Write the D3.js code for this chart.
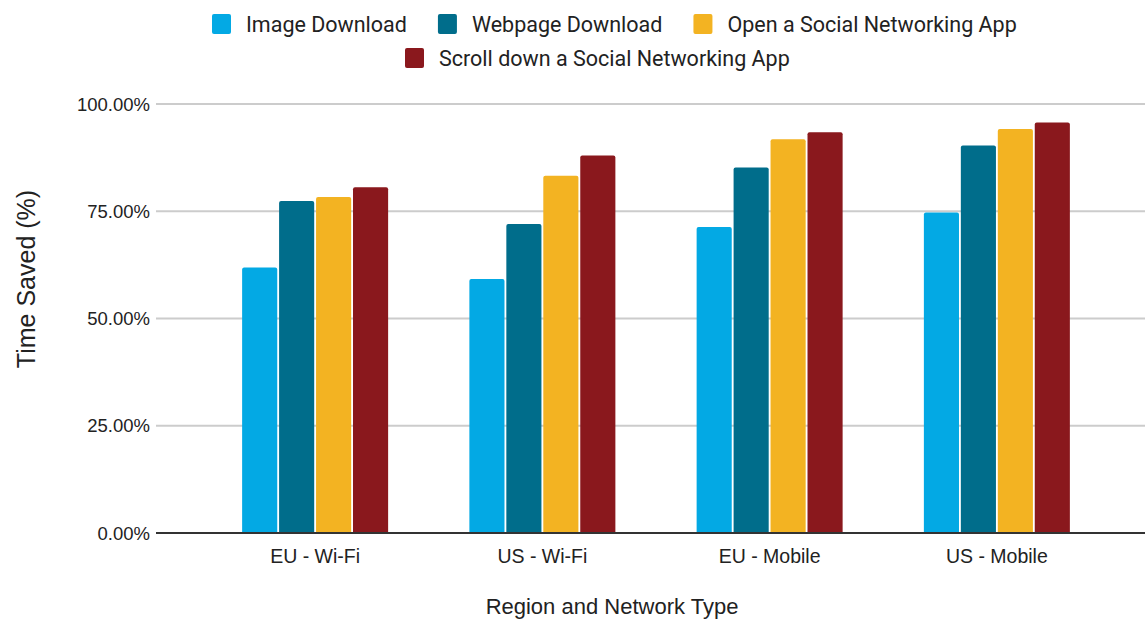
<!DOCTYPE html>
<html><head><meta charset="utf-8">
<script src="https://cdn.jsdelivr.net/npm/d3@7"></script>
<style>body{margin:0;background:#fff}svg{display:block}</style>
</head><body>
<svg id="chart" width="1145" height="621"></svg>
<script>
const categories = ["EU - Wi-Fi", "US - Wi-Fi", "EU - Mobile", "US - Mobile"];
const seriesNames = ["Image Download", "Webpage Download", "Open a Social Networking App", "Scroll down a Social Networking App"];
const imageDownload = [61.9, 59.2, 71.3, 74.7];
const webpageDownload = [77.4, 72.0, 85.2, 90.3];
const openSocialApp = [78.3, 83.3, 91.8, 94.2];
const scrollSocialApp = [80.6, 88.0, 93.4, 95.7];
const yTicks = [0, 25, 50, 75, 100];
const colors = ["#03a9e4", "#006d8b", "#f3b322", "#8a181d"];

const series = [imageDownload, webpageDownload, openSocialApp, scrollSocialApp];
const svg = d3.select("#chart");
const axisFont = "'Liberation Sans', Arial, sans-serif";
const legendFont = "Roboto, 'Noto Sans', sans-serif";

const plotLeft = 160, plotRight = 1145;
const y = d3.scaleLinear().domain([0, 100]).range([533, 104]);
const x0 = d3.scaleBand().domain(categories).range([201.5, 1110.5]).paddingInner(0).paddingOuter(0);
const groupW = 146;
const x1 = d3.scaleBand().domain(d3.range(4)).range([0, groupW]).paddingInner(0.05);

// gridlines
svg.append("g").selectAll("line").data(yTicks.filter(t => t !== 0)).join("line")
  .attr("x1", plotLeft - 4).attr("x2", plotRight)
  .attr("y1", d => y(d)).attr("y2", d => y(d))
  .attr("stroke", "#cccccc").attr("stroke-width", 2);

// y tick labels
svg.append("g").selectAll("text").data(yTicks).join("text")
  .attr("x", 150).attr("y", d => y(d)).attr("dy", "0.36em")
  .attr("text-anchor", "end").attr("font-family", axisFont).attr("font-size", 18.5).attr("fill", "#222")
  .text(d => d3.format(".2f")(d) + "%");

// bars
const r = 2;
function barPath(x, yTop, w, yBase) {
  return `M${x},${yBase}V${yTop + r}Q${x},${yTop} ${x + r},${yTop}H${x + w - r}Q${x + w},${yTop} ${x + w},${yTop + r}V${yBase}Z`;
}
const groups = svg.append("g").selectAll("g").data(categories).join("g")
  .attr("transform", d => `translate(${x0(d) + (x0.bandwidth() - groupW) / 2},0)`);
groups.selectAll("path").data((c, ci) => series.map((s, si) => ({si, v: s[ci]}))).join("path")
  .attr("d", d => barPath(x1(d.si), y(d.v), x1.bandwidth(), y(0)))
  .attr("fill", d => colors[d.si]);

// baseline
svg.append("line").attr("x1", plotLeft - 4).attr("x2", plotRight).attr("y1", y(0)).attr("y2", y(0))
  .attr("stroke", "#333").attr("stroke-width", 2);

// x labels
svg.append("g").selectAll("text").data(categories).join("text")
  .attr("x", d => x0(d) + x0.bandwidth() / 2).attr("y", 563)
  .attr("text-anchor", "middle").attr("font-family", axisFont).attr("font-size", 19.5).attr("fill", "#222")
  .text(d => d);

// axis titles
svg.append("text").attr("x", 612).attr("y", 614).attr("text-anchor", "middle")
  .attr("font-family", axisFont).attr("font-size", 22).attr("fill", "#222").text("Region and Network Type");
svg.append("text").attr("transform", "translate(35,279) rotate(-90)").attr("text-anchor", "middle")
  .attr("font-family", axisFont).attr("font-size", 25).attr("fill", "#222").text("Time Saved (%)");

// legend
const legendRows = [[0, 1, 2], [3]];
const rowY = [24, 58];
const rowStart = [212, 405];
const lg = svg.append("g");
legendRows.forEach((row, ri) => {
  const g = lg.append("g").attr("transform", `translate(${rowStart[ri]},0)`);
  let cx = 0;
  row.forEach((si) => {
    const item = g.append("g").attr("transform", `translate(${cx},0)`);
    item.append("rect").attr("x", 0).attr("y", rowY[ri] - 10).attr("width", 19).attr("height", 20)
      .attr("rx", 2).attr("fill", colors[si]);
    const t = item.append("text").attr("x", 34).attr("y", rowY[ri]).attr("dy", "0.35em")
      .attr("font-family", legendFont).attr("font-size", 21.5).attr("fill", "#222").text(seriesNames[si]);
    cx += 34 + t.node().getComputedTextLength() + 31;
  });
});
</script>
</body></html>
